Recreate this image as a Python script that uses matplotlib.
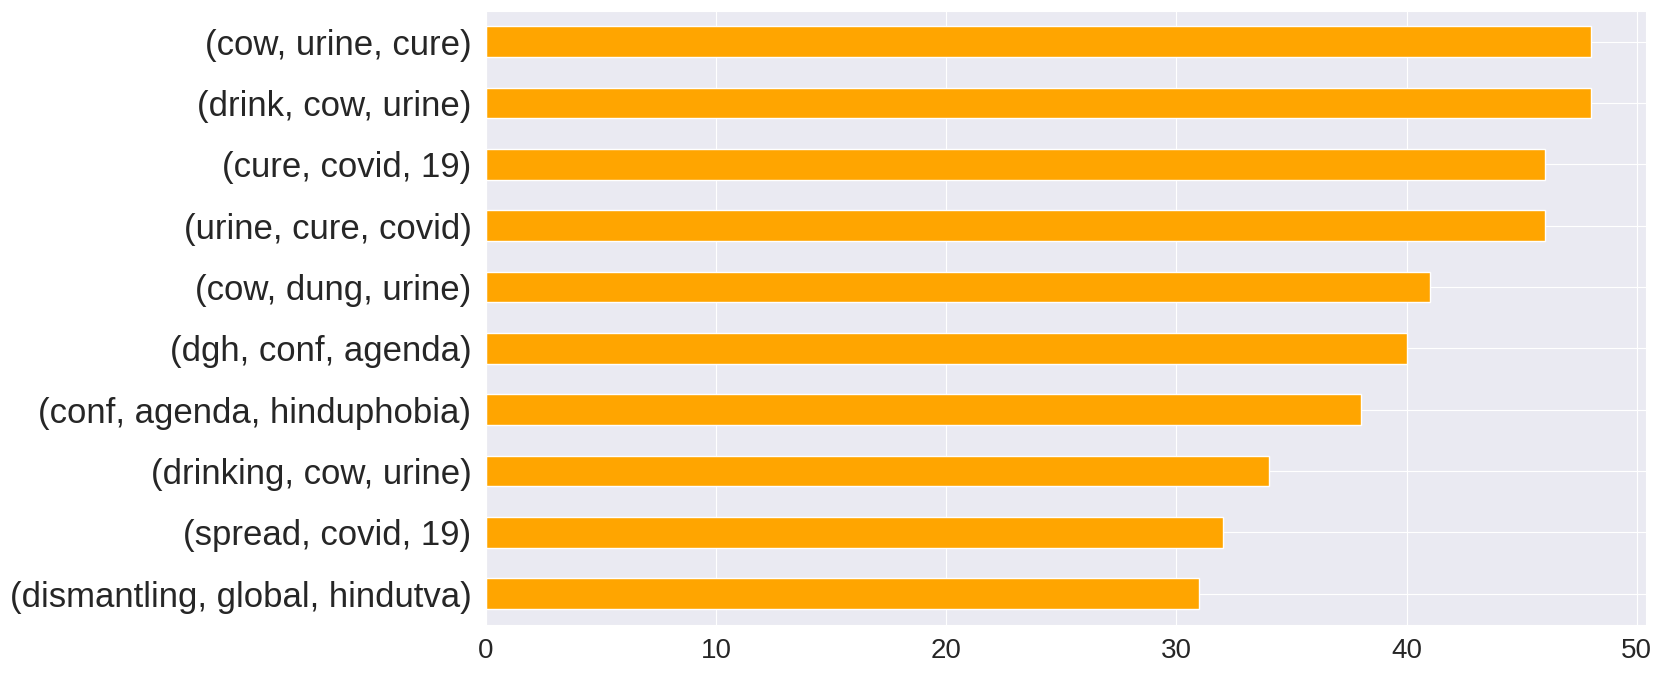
import matplotlib.pyplot as plt
import seaborn as sns

labels = ['(cow, urine, cure)', '(drink, cow, urine)', '(cure, covid, 19)',
          '(urine, cure, covid)', '(cow, dung, urine)', '(dgh, conf, agenda)',
          '(conf, agenda, hinduphobia)', '(drinking, cow, urine)',
          '(spread, covid, 19)', '(dismantling, global, hindutva)']
counts = [48, 48, 46, 46, 41, 40, 38, 34, 32, 31]

sns.set_style('darkgrid')
plt.rcParams['font.family'] = ['Liberation Sans', 'DejaVu Sans']

fig, ax = plt.subplots(figsize=(16.63, 6.75), dpi=100)
fig.subplots_adjust(left=486/1663, right=1646/1663, top=1-11/675, bottom=1-624.5/675)

# lowest count at the bottom, like pandas barh of a sorted series
ypos = range(len(labels))
ax.barh(ypos, counts[::-1], height=0.5, color='orange', edgecolor='white')
ax.set_yticks(ypos)
ax.set_yticklabels(labels[::-1], fontsize=25)
ax.set_ylim(-0.5, len(labels) - 0.5)
ax.set_xlim(0, 50.4)
ax.tick_params(axis='x', labelsize=20, pad=6)
ax.tick_params(axis='y', pad=7)

fig.savefig('out.png', dpi=100)
